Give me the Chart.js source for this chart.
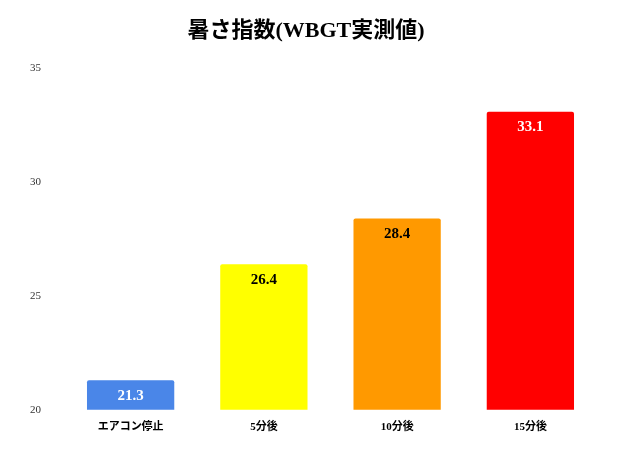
<!DOCTYPE html>
<html><head><meta charset="utf-8">
<script src="https://cdn.jsdelivr.net/npm/chart.js@4"></script>
<style>body{margin:0;background:#fff}#wrap{width:640px;height:449px}</style>
</head><body><div id="wrap"><canvas id="c"></canvas></div>
<script>
const categories = ["エアコン停止", "5分後", "10分後", "15分後"];
const values = [21.3, 26.4, 28.4, 33.1];
const barColors = ["#4a86e8", "#ffff00", "#ff9900", "#ff0000"];
const labelColors = ["#fff", "#000", "#000", "#fff"];

const valueLabels = {
  id: "valueLabels",
  afterDatasetsDraw(chart) {
    const ctx = chart.ctx;
    chart.getDatasetMeta(0).data.forEach((bar, i) => {
      ctx.save();
      ctx.font = "bold 15px 'Liberation Serif'";
      ctx.fillStyle = labelColors[i];
      ctx.textAlign = "center";
      ctx.textBaseline = "top";
      ctx.fillText(values[i].toFixed(1), bar.x, bar.y + 8);
      ctx.restore();
    });
  }
};

new Chart(document.getElementById("c"), {
  type: "bar",
  data: {
    labels: categories,
    datasets: [{ data: values, backgroundColor: barColors, borderRadius: 2, borderSkipped: "bottom", categoryPercentage: 0.655, barPercentage: 1 }]
  },
  options: {
    responsive: true, maintainAspectRatio: false, animation: false,
    layout: { padding: { left: 15, right: 43, top: 8, bottom: 12 } },
    plugins: {
      legend: { display: false },
      tooltip: { enabled: false },
      title: { display: true, text: "暑さ指数(WBGT実測値)", color: "#000",
        font: { family: "'Liberation Serif', 'Noto Sans CJK JP'", size: 22, weight: "bold" },
        padding: { top: 10, bottom: 24 } }
    },
    scales: {
      x: { grid: { display: false }, border: { display: false },
        ticks: { color: "#000", font: { family: "'Liberation Serif', 'Noto Sans CJK JP'", size: 11, weight: "bold" } } },
      y: { min: 20, max: 35, grid: { display: false }, border: { display: false },
        ticks: { stepSize: 5, color: "#333", padding: 15, font: { family: "'Liberation Serif'", size: 11 } } }
    }
  },
  plugins: [valueLabels]
});
</script></body></html>
